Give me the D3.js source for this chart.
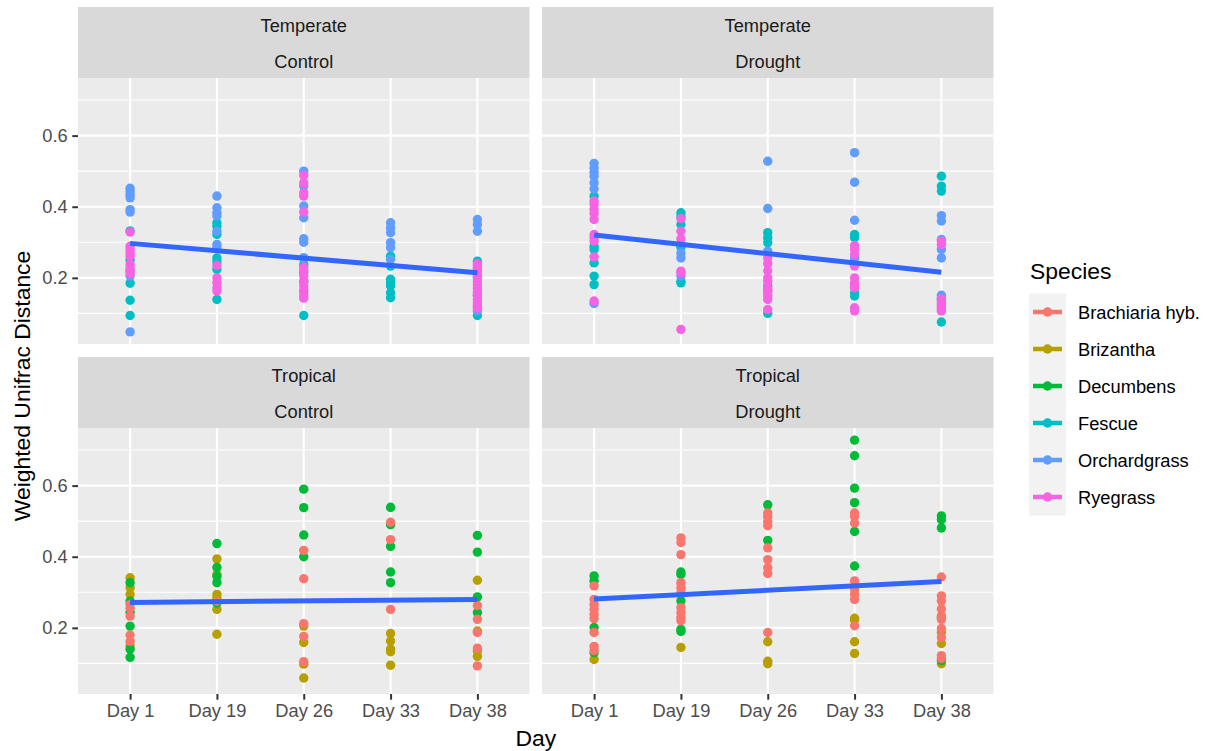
<!DOCTYPE html>
<html>
<head>
<meta charset="utf-8">
<script src="https://cdn.jsdelivr.net/npm/d3@7"></script>
<style>
  html, body { margin: 0; padding: 0; background: #ffffff; }
  svg { display: block; font-family: "Liberation Sans", Arial, sans-serif; }
</style>
</head>
<body>
<svg id="chart" width="1208" height="751"></svg>
<script>
// ---------------- DATA ----------------
const days = ["Day 1", "Day 19", "Day 26", "Day 33", "Day 38"];
const speciesNames = ["Brachiaria hyb.", "Brizantha", "Decumbens", "Fescue", "Orchardgrass", "Ryegrass"];
const speciesColors = ["#F8766D", "#B79F00", "#00BA38", "#00BFC4", "#619CFF", "#F564E3"];
const yTicks = [0.2, 0.4, 0.6];
const yMinor = [0.1, 0.3, 0.5, 0.7];

// Temperate / Control  (values per day: Day 1, 19, 26, 33, 38)
const tcFescue = [
  [0.332, 0.25, 0.22, 0.185, 0.137, 0.094],
  [0.355, 0.345, 0.322, 0.256, 0.245, 0.224, 0.139],
  [0.256, 0.238, 0.215, 0.19, 0.094],
  [0.261, 0.233, 0.196, 0.186, 0.177, 0.158, 0.144],
  [0.247, 0.2, 0.15, 0.094]
];
const tcOrchard = [
  [0.452, 0.443, 0.434, 0.425, 0.392, 0.385, 0.205, 0.048],
  [0.43, 0.397, 0.383, 0.374, 0.331, 0.294, 0.285],
  [0.5, 0.458, 0.402, 0.369, 0.31, 0.30, 0.256],
  [0.355, 0.341, 0.327, 0.299, 0.285, 0.252],
  [0.364, 0.35, 0.331, 0.224, 0.107]
];
const tcRye = [
  [0.329, 0.289, 0.28, 0.27, 0.261, 0.238, 0.228, 0.219, 0.212],
  [0.235, 0.2, 0.186, 0.172, 0.163],
  [0.488, 0.467, 0.439, 0.43, 0.385, 0.23, 0.22, 0.205, 0.19, 0.178, 0.165, 0.16, 0.15, 0.143],
  [],
  [0.24, 0.235, 0.23, 0.22, 0.21, 0.205, 0.2, 0.19, 0.18, 0.17, 0.16, 0.155, 0.15, 0.14, 0.13, 0.125, 0.12, 0.115]
];

// Temperate / Drought
const tdFescue = [
  [0.43, 0.289, 0.28, 0.242, 0.205, 0.181],
  [0.383, 0.372, 0.35, 0.294, 0.286, 0.19, 0.186],
  [0.327, 0.313, 0.299, 0.177, 0.1],
  [0.322, 0.313, 0.158, 0.149],
  [0.486, 0.458, 0.444, 0.076]
];
const tdOrchard = [
  [0.522, 0.509, 0.497, 0.486, 0.467, 0.45, 0.128],
  [0.27, 0.256, 0.205],
  [0.528, 0.395, 0.275],
  [0.552, 0.469, 0.362, 0.256],
  [0.375, 0.36, 0.308, 0.28, 0.256, 0.151, 0.145, 0.14]
];
const tdRye = [
  [0.416, 0.406, 0.392, 0.381, 0.364, 0.322, 0.313, 0.303, 0.259, 0.135],
  [0.367, 0.331, 0.31, 0.219, 0.214, 0.055],
  [0.256, 0.24, 0.22, 0.2, 0.19, 0.17, 0.163, 0.16, 0.15, 0.139, 0.111],
  [0.291, 0.28, 0.266, 0.233, 0.2, 0.186, 0.18, 0.175, 0.172, 0.116, 0.107],
  [0.303, 0.294, 0.141, 0.135, 0.13, 0.125, 0.12, 0.115, 0.11, 0.107]
];

// Tropical / Control
const bcBrachiaria = [
  [0.266, 0.255, 0.233, 0.18, 0.162],
  [0.275],
  [0.418, 0.338, 0.212, 0.176, 0.105],
  [0.497, 0.448, 0.252],
  [0.263, 0.224, 0.187, 0.143, 0.093]
];
const bcBrizantha = [
  [0.341, 0.313, 0.294, 0.15],
  [0.394, 0.35, 0.294, 0.284, 0.252, 0.182],
  [0.205, 0.159, 0.098, 0.059],
  [0.184, 0.163, 0.14, 0.133, 0.095],
  [0.334, 0.191, 0.135, 0.12]
];
const bcDecumbens = [
  [0.327, 0.275, 0.244, 0.205, 0.14, 0.117],
  [0.437, 0.37, 0.345, 0.327, 0.27],
  [0.59, 0.538, 0.461, 0.4],
  [0.539, 0.49, 0.429, 0.357, 0.327],
  [0.46, 0.413, 0.287, 0.243]
];

// Tropical / Drought
const bdBrachiaria = [
  [0.318, 0.28, 0.266, 0.252, 0.238, 0.226, 0.187, 0.148, 0.136],
  [0.453, 0.44, 0.406, 0.327, 0.313, 0.299, 0.257, 0.243, 0.229, 0.22],
  [0.523, 0.513, 0.499, 0.487, 0.425, 0.392, 0.369, 0.353, 0.187],
  [0.523, 0.513, 0.495, 0.332, 0.308, 0.294, 0.28, 0.206],
  [0.343, 0.29, 0.276, 0.253, 0.234, 0.224, 0.198, 0.173, 0.122, 0.114]
];
const bdBrizantha = [
  [0.111],
  [0.145],
  [0.161, 0.106, 0.099],
  [0.227, 0.222, 0.161, 0.128],
  [0.187, 0.156, 0.099]
];
const bdDecumbens = [
  [0.346, 0.332, 0.201, 0.13],
  [0.357, 0.35, 0.276, 0.196, 0.19],
  [0.546, 0.446],
  [0.728, 0.684, 0.593, 0.552, 0.471, 0.374],
  [0.515, 0.504, 0.481, 0.23, 0.108]
];

// facets: [top strip, bottom strip], species drawn (in drawing order)
const facets = [
  { row: 0, col: 0, strip: ["Temperate", "Control"], series: [["Fescue", tcFescue], ["Orchardgrass", tcOrchard], ["Ryegrass", tcRye]] },
  { row: 0, col: 1, strip: ["Temperate", "Drought"], series: [["Fescue", tdFescue], ["Orchardgrass", tdOrchard], ["Ryegrass", tdRye]] },
  { row: 1, col: 0, strip: ["Tropical", "Control"], series: [["Brizantha", bcBrizantha], ["Decumbens", bcDecumbens], ["Brachiaria hyb.", bcBrachiaria]] },
  { row: 1, col: 1, strip: ["Tropical", "Drought"], series: [["Brizantha", bdBrizantha], ["Decumbens", bdDecumbens], ["Brachiaria hyb.", bdBrachiaria]] }
];

// ---------------- LAYOUT ----------------
const svg = d3.select("#chart");
const color = d3.scaleOrdinal().domain(speciesNames).range(speciesColors);

const colX = [78, 542];
const panelW = 451.5;
const stripTop = [7, 357];
const stripH = 71;
const panelH = 266;

const FS_AXIS = 18.3, FS_TITLE = 22.9;

// y domain from data with 5% expansion
const allVals = [];
facets.forEach(f => f.series.forEach(s => s[1].forEach(d => d.forEach(v => allVals.push(v)))));
const yExt = d3.extent(allVals);
const yPad = (yExt[1] - yExt[0]) * 0.05;
const yDomain = [yExt[0] - yPad, yExt[1] + yPad];

facets.forEach(f => {
  const x0 = colX[f.col];
  const sTop = stripTop[f.row];
  const pTop = sTop + stripH;
  const g = svg.append("g");

  const x = d3.scalePoint().domain(days).range([x0, x0 + panelW]).padding(0.6);
  const y = d3.scaleLinear().domain(yDomain).range([pTop + panelH, pTop]);

  // strip
  g.append("rect").attr("x", x0).attr("y", sTop).attr("width", panelW).attr("height", stripH).attr("fill", "#D9D9D9");
  f.strip.forEach((t, i) => {
    g.append("text").attr("x", x0 + panelW / 2).attr("y", sTop + 18 + i * 36)
      .attr("text-anchor", "middle").attr("dominant-baseline", "central")
      .attr("font-size", FS_AXIS).attr("fill", "#1A1A1A").text(t);
  });

  // panel background
  g.append("rect").attr("x", x0).attr("y", pTop).attr("width", panelW).attr("height", panelH).attr("fill", "#EBEBEB");

  // grid
  yMinor.forEach(v => {
    if (v > yDomain[0] && v < yDomain[1])
      g.append("line").attr("x1", x0).attr("x2", x0 + panelW).attr("y1", y(v)).attr("y2", y(v))
        .attr("stroke", "#FFFFFF").attr("stroke-width", 1.1);
  });
  yTicks.forEach(v => {
    g.append("line").attr("x1", x0).attr("x2", x0 + panelW).attr("y1", y(v)).attr("y2", y(v))
      .attr("stroke", "#FFFFFF").attr("stroke-width", 2.1);
  });
  days.forEach(d => {
    g.append("line").attr("x1", x(d)).attr("x2", x(d)).attr("y1", pTop).attr("y2", pTop + panelH)
      .attr("stroke", "#FFFFFF").attr("stroke-width", 2.1);
  });

  // points
  const pts = [];
  f.series.forEach(([sp, arr]) => {
    arr.forEach((vals, di) => vals.forEach(v => pts.push({ sp, day: days[di], idx: di + 1, v })));
  });
  g.selectAll("circle.pt").data(pts).enter().append("circle")
    .attr("cx", d => x(d.day)).attr("cy", d => y(d.v)).attr("r", 4.7)
    .attr("fill", d => color(d.sp));

  // linear fit (group = 1) on day index
  const mx = d3.mean(pts, d => d.idx), my = d3.mean(pts, d => d.v);
  const sxy = d3.sum(pts, d => (d.idx - mx) * (d.v - my));
  const sxx = d3.sum(pts, d => (d.idx - mx) * (d.idx - mx));
  const slope = sxy / sxx, icpt = my - slope * mx;
  const xi = d3.scaleLinear().domain([1, days.length]).range([x(days[0]), x(days[days.length - 1])]);
  const fit = [1, days.length].map(t => [xi(t), y(icpt + slope * t)]);
  g.append("path").attr("d", d3.line()(fit)).attr("stroke", "#3366FF").attr("stroke-width", 5)
    .attr("fill", "none");

  // y axis (left column only)
  if (f.col === 0) {
    const ya = d3.axisLeft(y).tickValues(yTicks).tickSize(5.7).tickPadding(4.6).tickFormat(d3.format(".1f"));
    const ag = g.append("g").attr("transform", `translate(${x0},0)`).call(ya);
    ag.select(".domain").remove();
    ag.selectAll("line").attr("stroke", "#333333").attr("stroke-width", 2);
    ag.selectAll("text").attr("font-size", FS_AXIS).attr("fill", "#4D4D4D")
      .attr("font-family", "Liberation Sans, Arial, sans-serif");
  }
  // x axis (bottom row only)
  if (f.row === 1) {
    const xa = d3.axisBottom(x).tickSize(5.7).tickPadding(4.6);
    const ag = g.append("g").attr("transform", `translate(0,${pTop + panelH})`).call(xa);
    ag.select(".domain").remove();
    ag.selectAll("line").attr("stroke", "#333333").attr("stroke-width", 2);
    ag.selectAll("text").attr("font-size", FS_AXIS).attr("fill", "#4D4D4D")
      .attr("font-family", "Liberation Sans, Arial, sans-serif");
  }
});

// axis titles
svg.append("text").attr("x", (colX[0] + colX[1] + panelW) / 2).attr("y", 738)
  .attr("text-anchor", "middle").attr("dominant-baseline", "central")
  .attr("font-size", FS_TITLE).attr("fill", "#000000").text("Day");
svg.append("text").attr("transform", `translate(22,${(stripTop[0] + stripH + stripTop[1] + stripH + panelH) / 2}) rotate(-90)`)
  .attr("text-anchor", "middle").attr("dominant-baseline", "central")
  .attr("font-size", FS_TITLE).attr("fill", "#000000").text("Weighted Unifrac Distance");

// legend
const lg = svg.append("g").attr("transform", "translate(1029,0)");
lg.append("text").attr("x", 1).attr("y", 271).attr("dominant-baseline", "central")
  .attr("font-size", FS_TITLE).attr("fill", "#000000").text("Species");
const keyH = 37, keyTop = 293.5, keyW = 37;
lg.append("rect").attr("x", 0).attr("y", keyTop).attr("width", keyW).attr("height", keyH * speciesNames.length)
  .attr("fill", "#F2F2F2");
speciesNames.forEach((s, i) => {
  const cy = keyTop + keyH * i + keyH / 2;
  lg.append("line").attr("x1", 4).attr("x2", keyW - 4).attr("y1", cy).attr("y2", cy)
    .attr("stroke", color(s)).attr("stroke-width", 4.5);
  lg.append("circle").attr("cx", keyW / 2).attr("cy", cy).attr("r", 4.7).attr("fill", color(s));
  lg.append("text").attr("x", 49).attr("y", cy).attr("dominant-baseline", "central")
    .attr("font-size", FS_AXIS).attr("fill", "#000000").text(s);
});
</script>
</body>
</html>
